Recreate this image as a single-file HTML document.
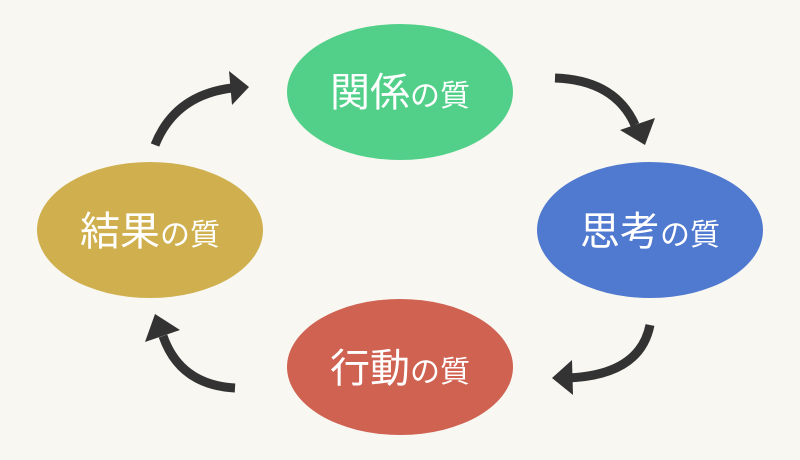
<!DOCTYPE html>
<html><head><meta charset="utf-8"><style>
html,body{margin:0;padding:0;background:#f8f7f1;}
svg{display:block}
text{font-family:"Liberation Sans","Noto Sans CJK JP",sans-serif;fill:#fff;font-weight:normal;}
</style></head><body>
<svg width="800" height="460" viewBox="0 0 800 460">
<rect width="800" height="460" fill="#f8f7f1"/>
<ellipse cx="400" cy="92" rx="113" ry="68" fill="#52d08a"/>
<ellipse cx="650" cy="230" rx="113" ry="68" fill="#5079d0"/>
<ellipse cx="400" cy="367" rx="113" ry="68" fill="#d06251"/>
<ellipse cx="150" cy="230" rx="113" ry="68" fill="#cfaf4e"/>
<text x="400" y="106" text-anchor="middle"><tspan font-size="40">関係</tspan><tspan font-size="30">の質</tspan></text>
<text x="650" y="245" text-anchor="middle"><tspan font-size="40">思考</tspan><tspan font-size="30">の質</tspan></text>
<text x="400" y="382" text-anchor="middle"><tspan font-size="40">行動</tspan><tspan font-size="30">の質</tspan></text>
<text x="150" y="245" text-anchor="middle"><tspan font-size="40">結果</tspan><tspan font-size="30">の質</tspan></text>
<g fill="none" stroke="#333" stroke-width="9">
<path d="M555,78 Q615,80 635,125"/>
<path d="M650,325 Q640,375 568,378"/>
<path d="M235,388 Q180,385 163,336"/>
<path d="M155,145 Q175,95 232,88"/>
</g>
<g fill="#333">
<polygon points="645,145 620,130 655,118"/>
<polygon points="552,378 572,360 573,395"/>
<polygon points="155,314 180,330 145,342"/>
<polygon points="249,87 229,71 232,105"/>
</g>
</svg>
</body></html>
